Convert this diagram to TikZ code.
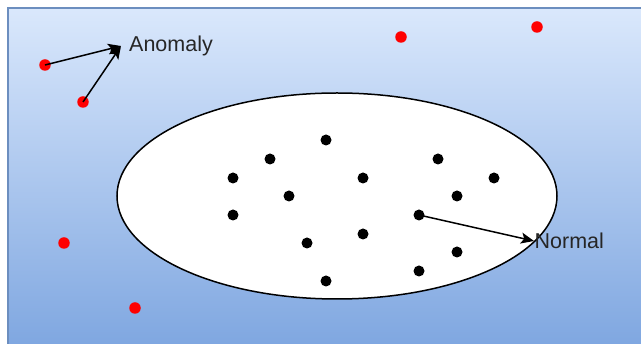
\documentclass[tikz,border=0pt]{standalone}
\usepackage{fontspec}
\setmainfont{Liberation Sans}
\usetikzlibrary{arrows.meta, shapes.geometric}
\definecolor{skytop}{HTML}{DAE8FC}
\definecolor{skybot}{HTML}{7EA6E0}
\definecolor{skyline}{HTML}{6C8EBF}

\begin{document}
\begin{tikzpicture}[x=1pt, y=-1pt,
  inpt/.style={circle, fill=black, inner sep=0pt, minimum size=11pt},
  outpt/.style={circle, fill=red, inner sep=0pt, minimum size=11.5pt},
  lbl/.style={font=\fontsize{21.5}{24}\selectfont, text=black!85, inner ysep=0pt, anchor=west}]
  \useasboundingbox (0,0) rectangle (641,344);
  \draw[skyline, line width=1.5pt, top color=skytop, bottom color=skybot] (8,8) rectangle (648,350);

  \node[draw, ellipse, fill=white, line width=1.5pt, minimum width=440pt, minimum height=206pt, inner sep=0pt] (cluster) at (337,196) {};

  % normal points
  \node[inpt] (n1) at (326,140) {};
  \node[inpt] (n2) at (270,159) {};
  \node[inpt] (n3) at (438,159) {};
  \node[inpt] (n4) at (233,178) {};
  \node[inpt] (n5) at (363,178) {};
  \node[inpt] (n6) at (494,178) {};
  \node[inpt] (n7) at (289,196) {};
  \node[inpt] (n8) at (457,196) {};
  \node[inpt] (n9) at (233,215) {};
  \node[inpt] (n10) at (419,215) {};
  \node[inpt] (n11) at (363,234) {};
  \node[inpt] (n12) at (307,243) {};
  \node[inpt] (n13) at (457,252) {};
  \node[inpt] (n14) at (419,271) {};
  \node[inpt] (n15) at (326,281) {};

  % anomalies
  \node[outpt] (a1) at (45,65) {};
  \node[outpt] (a2) at (83,102) {};
  \node[outpt] (a3) at (401,37) {};
  \node[outpt] (a4) at (537,27) {};
  \node[outpt] (a5) at (64,243) {};
  \node[outpt] (a6) at (135,308) {};

  \node[lbl, inner xsep=8pt] (anom) at (121,46) {Anomaly};
  \node[lbl, inner xsep=0.5pt] (norm) at (534,241) {Normal};

  \draw[-{Stealth[length=13pt, width=11pt, inset=3pt]}, line width=1.5pt] (a1.center) -- (anom.west);
  \draw[-{Stealth[length=13pt, width=11pt, inset=3pt]}, line width=1.5pt] (a2.center) -- (anom.west);
  \draw[-{Stealth[length=13pt, width=11pt, inset=3pt]}, line width=1.5pt] (n10.center) -- (norm.west);
\end{tikzpicture}
\end{document}
